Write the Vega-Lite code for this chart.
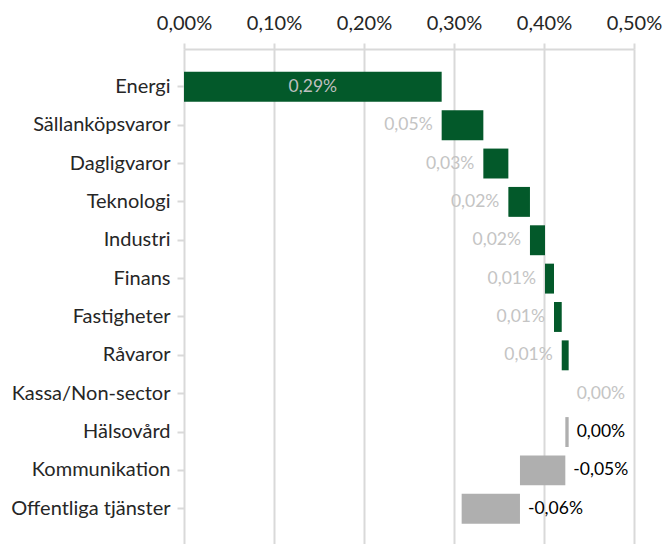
{
  "$schema": "https://vega.github.io/schema/vega-lite/v6.json",
  "width": 450,
  "height": 495,
  "autosize": {"type": "none"},
  "padding": {"left": 184, "top": 49, "right": 30, "bottom": 0},
  "config": {
    "font": "Lato",
    "view": {"stroke": null},
    "locale": {"number": {"decimal": ",", "thousands": " ", "grouping": [3], "currency": ["", " kr"], "minus": "-"}}
  },
  "data": {
    "values": [
      {"sektor": "Energi", "start": 0, "slut": 0.002863, "bidrag": 0.002863},
      {"sektor": "Sällanköpsvaror", "start": 0.002863, "slut": 0.003326, "bidrag": 0.000463},
      {"sektor": "Dagligvaror", "start": 0.003326, "slut": 0.003604, "bidrag": 0.000278},
      {"sektor": "Teknologi", "start": 0.003604, "slut": 0.003844, "bidrag": 0.00024},
      {"sektor": "Industri", "start": 0.003844, "slut": 0.004011, "bidrag": 0.000167},
      {"sektor": "Finans", "start": 0.004011, "slut": 0.004111, "bidrag": 0.0001},
      {"sektor": "Fastigheter", "start": 0.004111, "slut": 0.004197, "bidrag": 0.000086},
      {"sektor": "Råvaror", "start": 0.004197, "slut": 0.004274, "bidrag": 0.000077},
      {"sektor": "Kassa/Non-sector", "start": 0.004274, "slut": 0.004274, "bidrag": 0},
      {"sektor": "Hälsovård", "start": 0.004274, "slut": 0.004237, "bidrag": -0.000037},
      {"sektor": "Kommunikation", "start": 0.004237, "slut": 0.003733, "bidrag": -0.000504},
      {"sektor": "Offentliga tjänster", "start": 0.003733, "slut": 0.003085, "bidrag": -0.000648}
    ]
  },
  "encoding": {
    "y": {
      "field": "sektor",
      "type": "nominal",
      "sort": ["Energi", "Sällanköpsvaror", "Dagligvaror", "Teknologi", "Industri", "Finans", "Fastigheter", "Råvaror", "Kassa/Non-sector", "Hälsovård", "Kommunikation", "Offentliga tjänster"],
      "scale": {"paddingInner": 0.22, "paddingOuter": 0.562, "align": 0.53},
      "axis": {
        "title": null,
        "domain": false,
        "grid": false,
        "ticks": true,
        "tickSize": 7,
        "tickWidth": 2,
        "tickColor": "#d9d9d9",
        "labelPadding": 7,
        "labelFont": "Lato",
        "labelFontSize": 20,
        "labelColor": "#262626"
      }
    }
  },
  "layer": [
    {
      "mark": {"type": "bar"},
      "encoding": {
        "x": {
          "field": "start",
          "type": "quantitative",
          "scale": {"domain": [0, 0.005], "nice": false},
          "axis": {
            "orient": "top",
            "title": null,
            "values": [0, 0.001, 0.002, 0.003, 0.004, 0.005],
            "format": ".2%",
            "grid": true,
            "gridColor": "#d9d9d9",
            "gridWidth": 2,
            "domain": true,
            "domainColor": "#d9d9d9",
            "domainWidth": 2,
            "ticks": true,
            "tickSize": 6,
            "tickWidth": 2,
            "tickColor": "#d9d9d9",
            "labelFlush": false,
            "labelOverlap": false,
            "labelPadding": 10,
            "labelFont": "Lato",
            "labelFontSize": 20,
            "labelColor": "#262626"
          }
        },
        "x2": {"field": "slut"},
        "color": {
          "condition": {"test": "datum.bidrag < 0", "value": "#afafaf"},
          "value": "#03592a"
        }
      }
    },
    {
      "transform": [{"filter": "datum.bidrag > 0 && datum.start > 0"}],
      "mark": {"type": "text", "align": "right", "baseline": "middle", "dx": -9, "fontSize": 17.5, "color": "#c4c4c4"},
      "encoding": {
        "x": {"field": "start", "type": "quantitative"},
        "text": {"field": "bidrag", "type": "quantitative", "format": ".2%"}
      }
    },
    {
      "transform": [
        {"filter": "datum.bidrag > 0 && datum.start == 0"},
        {"fold": ["start", "slut"], "as": ["kant", "pos"]}
      ],
      "mark": {"type": "text", "align": "center", "baseline": "middle", "fontSize": 17.5, "color": "#bfbfbf"},
      "encoding": {
        "x": {"field": "pos", "type": "quantitative", "aggregate": "mean"},
        "text": {"field": "bidrag", "type": "quantitative", "format": ".2%"}
      }
    },
    {
      "transform": [{"filter": "datum.bidrag == 0"}],
      "mark": {"type": "text", "align": "left", "baseline": "middle", "dx": 8, "fontSize": 17.5, "color": "#c4c4c4"},
      "encoding": {
        "x": {"field": "slut", "type": "quantitative"},
        "text": {"field": "bidrag", "type": "quantitative", "format": ".2%"}
      }
    },
    {
      "transform": [{"filter": "datum.bidrag < 0"}],
      "mark": {"type": "text", "align": "left", "baseline": "middle", "dx": 8, "fontSize": 17.5, "color": "#000000"},
      "encoding": {
        "x": {"field": "start", "type": "quantitative"},
        "text": {"field": "bidrag", "type": "quantitative", "format": ".2%"}
      }
    }
  ]
}
